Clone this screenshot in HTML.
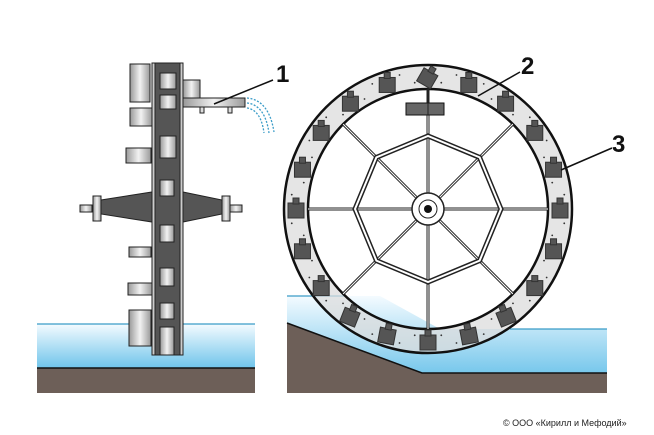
<!DOCTYPE html>
<html><head><meta charset="utf-8"><style>
body{margin:0;background:#fff;}
svg{display:block;}
text{font-family:"Liberation Sans",sans-serif;}
</style></head><body>
<svg id="s" width="654" height="435" viewBox="0 0 654 435" xmlns="http://www.w3.org/2000/svg">
<defs>
<linearGradient id="wg" x1="0" y1="0" x2="0" y2="1"><stop offset="0" stop-color="#f4fbff"/><stop offset="1" stop-color="#6cc3ea"/></linearGradient>
<linearGradient id="mg" x1="0" y1="0" x2="1" y2="0"><stop offset="0" stop-color="#999"/><stop offset="0.5" stop-color="#f2f2f2"/><stop offset="1" stop-color="#999"/></linearGradient>
</defs>
<rect x="37" y="324" width="218" height="45" fill="url(#wg)"/>
<line x1="37" y1="324" x2="255" y2="324" stroke="#3a9cc8" stroke-width="1.2"/>
<rect x="37" y="368" width="218" height="25" fill="#6d5f58"/>
<line x1="37" y1="368" x2="255" y2="368" stroke="#111" stroke-width="1.5"/>
<g stroke="#222" stroke-width="1">
<polygon points="80,205 92,205 92,212 80,212" fill="url(#mg)"/>
<rect x="93" y="196" width="8" height="25" fill="url(#mg)"/>
<polygon points="101,200 152,192 152,222 101,214" fill="#555"/>
<polygon points="183,192 222,200 222,214 183,222" fill="#555"/>
<rect x="222" y="196" width="8" height="25" fill="url(#mg)"/>
<rect x="230" y="205" width="12" height="7" fill="url(#mg)"/>
<rect x="130" y="64" width="20" height="38" fill="url(#mg)"/>
<rect x="130" y="108" width="22" height="18" fill="url(#mg)"/>
<rect x="126" y="148" width="25" height="15" fill="url(#mg)"/>
<rect x="129" y="247" width="22" height="10" fill="url(#mg)"/>
<rect x="128" y="283" width="24" height="12" fill="url(#mg)"/>
<rect x="129" y="310" width="22" height="36" fill="url(#mg)"/>
<rect x="152" y="63" width="31" height="292" fill="#555"/>
<rect x="152" y="63" width="3" height="292" fill="#ccc"/>
<rect x="180" y="63" width="3" height="292" fill="#ccc"/>
<rect x="183" y="80" width="17" height="27" fill="url(#mg)"/>
<rect x="183" y="98" width="62" height="9" fill="url(#mg)"/>
<rect x="200" y="107" width="4" height="6" fill="#ddd"/>
<rect x="228" y="107" width="4" height="6" fill="#ddd"/>
<rect x="160" y="73" width="16" height="16" fill="url(#mg)"/>
<rect x="160" y="95" width="16" height="14" fill="url(#mg)"/>
<rect x="160" y="136" width="16" height="22" fill="url(#mg)"/>
<rect x="160" y="180" width="14" height="16" fill="url(#mg)"/>
<rect x="160" y="225" width="14" height="17" fill="url(#mg)"/>
<rect x="160" y="268" width="14" height="18" fill="url(#mg)"/>
<rect x="160" y="303" width="14" height="16" fill="url(#mg)"/>
<rect x="160" y="327" width="14" height="28" fill="url(#mg)"/>
</g>
<path d="M247,103 q18,2 22,30 M247,108 q14,2 17,25 M247,98 q22,2 27,34" stroke="#3a9cc8" stroke-width="1.3" fill="none" stroke-dasharray="2,1.5"/>
<polygon points="287,296 380,296 440,329 607,329 607,380 287,380" fill="url(#wg)"/>
<line x1="287" y1="296" x2="345" y2="296" stroke="#3a9cc8" stroke-width="1.2"/>
<line x1="510" y1="329" x2="607" y2="329" stroke="#3a9cc8" stroke-width="1.2"/>
<polygon points="287,323 422,373 607,373 607,393 287,393" fill="#6d5f58"/>
<polyline points="287,323 422,373 607,373" fill="none" stroke="#111" stroke-width="1.5"/>
<g id="wheel"></g>
<g stroke="#111" stroke-width="1.5">
<line x1="273" y1="80" x2="214" y2="104"/>
<line x1="520" y1="72" x2="478" y2="96"/>
<line x1="612" y1="148" x2="561" y2="170"/>
</g>
<g font-size="24" font-weight="bold" fill="#111">
<text x="276" y="82">1</text>
<text x="521" y="74">2</text>
<text x="612" y="152">3</text>
</g>
<text x="503" y="426" font-size="9" fill="#222">© ООО «Кирилл и Мефодий»</text>
</svg>
<script>
var g=document.getElementById('wheel'),cx=428,cy=209,R=144,r=120,h='';
h+='<path d="M'+(cx-R)+','+cy+'a'+R+','+R+' 0 1,0 '+2*R+',0a'+R+','+R+' 0 1,0 '+(-2*R)+',0zM'+(cx-r)+','+cy+'a'+r+','+r+' 0 1,1 '+2*r+',0a'+r+','+r+' 0 1,1 '+(-2*r)+',0z" fill="#dcdcdc" fill-rule="evenodd" fill-opacity="0.75" stroke="#111" stroke-width="2.5"/>';
for(var i=0;i<60;i++){var a=i*Math.PI*2/60,m=(R+r)/2+((i%2)?5:-5);h+='<circle cx="'+(cx+m*Math.cos(a))+'" cy="'+(cy+m*Math.sin(a))+'" r="0.9" fill="#333"/>';}
for(i=0;i<8;i++){var a=i*Math.PI/4;h+='<line x1="'+cx+'" y1="'+cy+'" x2="'+(cx+r*Math.cos(a))+'" y2="'+(cy+r*Math.sin(a))+'" stroke="#222" stroke-width="3"/><line x1="'+cx+'" y1="'+cy+'" x2="'+(cx+r*Math.cos(a))+'" y2="'+(cy+r*Math.sin(a))+'" stroke="#fff" stroke-width="1"/>';}
var p=[];for(i=0;i<8;i++){var a=i*Math.PI/4;p.push((cx+73*Math.cos(a))+','+(cy+73*Math.sin(a)));}
h+='<polygon points="'+p.join(' ')+'" fill="none" stroke="#222" stroke-width="5"/><polygon points="'+p.join(' ')+'" fill="none" stroke="#fff" stroke-width="2"/>';
h+='<circle cx="'+cx+'" cy="'+cy+'" r="16" fill="#fff" stroke="#222" stroke-width="1.5"/><circle cx="'+cx+'" cy="'+cy+'" r="9" fill="#fff" stroke="#222"/><circle cx="'+cx+'" cy="'+cy+'" r="4" fill="#111"/>';
h+='<rect x="406" y="103" width="38" height="12" fill="#666" stroke="#111"/><line x1="'+cx+'" y1="82" x2="'+cx+'" y2="115" stroke="#222"/>';
for(i=0;i<20;i++){var a=-Math.PI/2+i*Math.PI*2/20,m=(R+r)/2,x=cx+m*Math.cos(a),y=cy+m*Math.sin(a);
var rot=0; if(y>cy+100) rot=(a*180/Math.PI-90)*0.6; if(i==0) rot=30;
h+='<g transform="translate('+x+','+y+') rotate('+rot+')"><rect x="-8" y="-6" width="16" height="15" fill="#555" stroke="#333"/><rect x="-3" y="-11" width="6" height="6" fill="#555" stroke="#333"/></g>';}
g.innerHTML=h;
</script>
</body></html>
